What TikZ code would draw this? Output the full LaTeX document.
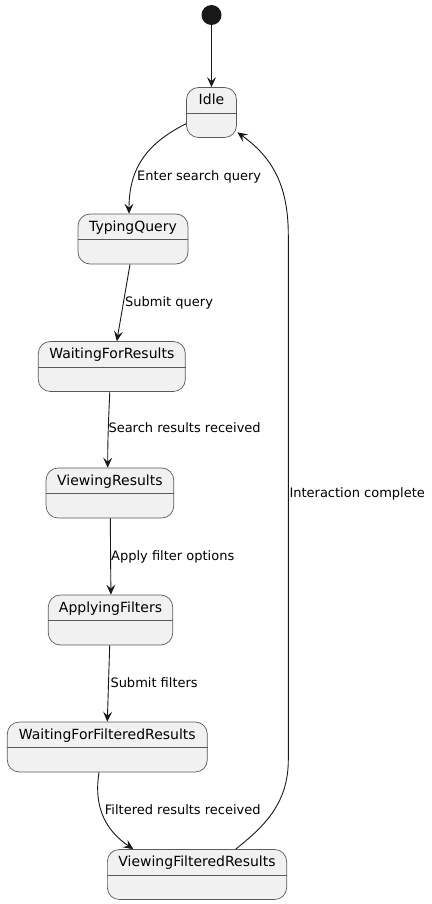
\documentclass[tikz,border=0pt]{standalone}
\usepackage{fontspec}
\setmainfont{DejaVu Sans}
\usetikzlibrary{arrows.meta}
\definecolor{edgec}{HTML}{181818}
\definecolor{boxfill}{HTML}{F1F1F1}
\definecolor{boxline}{HTML}{5A5A5A}
\begin{document}
\begin{tikzpicture}[x=1pt,y=-1pt,
  statebox/.style={draw=boxline,fill=boxfill,line width=0.7pt,rounded corners=12pt,minimum height=50pt,inner sep=0pt},
  stname/.style={anchor=base,inner sep=0pt,font=\fontsize{14}{16}\selectfont,text=black},
  elabel/.style={anchor=base west,inner sep=0pt,font=\fontsize{13}{15}\selectfont,text=black},
  trans/.style={draw=edgec,line width=0.9pt,-{Stealth[length=10pt,width=9pt,inset=4pt]}},
  divline/.style={draw=boxline,line width=0.7pt}]
\useasboundingbox (0,0) rectangle (431,904);

\node[circle,fill=edgec,minimum size=20pt,inner sep=0pt] (start) at (211.5,15) {};

\node[statebox,minimum width=50pt] (idle) at (211.5,112.5) {};
\node[statebox,minimum width=110pt] (tq) at (133,239) {};
\node[statebox,minimum width=147pt] (wfr) at (111.8,366.5) {};
\node[statebox,minimum width=127.7pt] (vr) at (109.9,493) {};
\node[statebox,minimum width=124.4pt] (af) at (110.5,620) {};
\node[statebox,minimum width=200pt] (wffr) at (107.3,747) {};
\node[statebox,minimum width=179.3pt] (vfr) at (197,874.5) {};

\foreach \n/\t in {idle/Idle,tq/TypingQuery,wfr/WaitingForResults,vr/ViewingResults,af/ApplyingFilters,wffr/WaitingForFilteredResults,vfr/ViewingFilteredResults}{
  \node[stname] (\n-name) at ([yshift=-17.8pt]\n.north) {\t};
  \draw[divline] ([yshift=-26pt]\n.north west) -- ([yshift=-26pt]\n.north east);
}

% transitions
\draw[trans] (start.south) -- (idle.north);
\draw[trans] ([yshift=-36.5pt]idle.north west) .. controls (150,142) and (129,165) .. ([xshift=-4pt]tq.north);
\draw[trans] ([xshift=-3pt]tq.south) -- ([xshift=5pt]wfr.north);
\draw[trans] ([xshift=-2pt]wfr.south) .. controls (108.5,420) and (107.7,440) .. ([xshift=-2.2pt]vr.north);
\draw[trans] ([xshift=0.4pt]vr.south) -- ([xshift=0.4pt]af.north);
\draw[trans] ([xshift=-0.8pt]af.south) -- (wffr.north);
\draw[trans] ([xshift=-8.3pt]wffr.south) .. controls (93,810) and (108,832) .. ([xshift=-63.7pt]vfr.north);
\draw[trans] ([xshift=38.7pt]vfr.north) .. controls (262,828) and (288.3,805) .. (288.3,760)
   -- (288.3,235) .. controls (288.3,185) and (272,157) .. ([yshift=5.5pt,xshift=0.5pt]idle.south east);

% labels
\node[elabel] (l1) at (137,180.2) {Enter search query};
\node[elabel] (l2) at (125,306.8) {Submit query};
\node[elabel] (l3) at (108.3,432.8) {Search results received};
\node[elabel] (l4) at (111,560.5) {Apply filter options};
\node[elabel] (l5) at (110.3,687.5) {Submit filters};
\node[elabel] (l6) at (104.7,814.8) {Filtered results received};
\node[elabel] (l7) at (289.3,497.8) {Interaction complete};
\end{tikzpicture}
\end{document}
